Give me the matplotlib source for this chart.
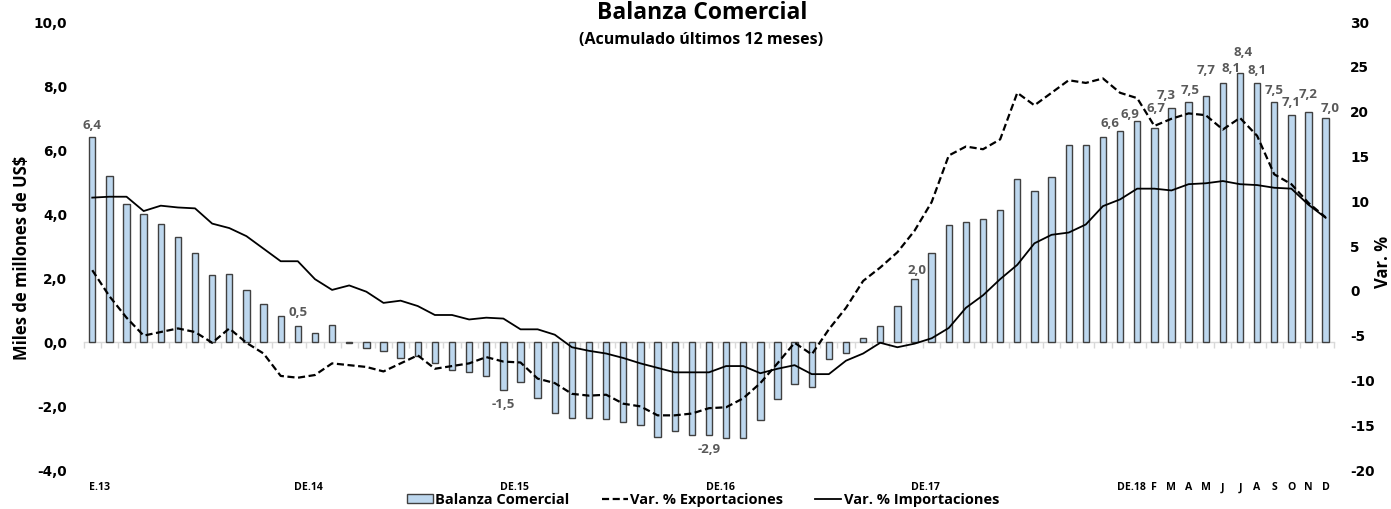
import numpy as np
import matplotlib
matplotlib.use("Agg")
import matplotlib.pyplot as plt
from matplotlib.patches import Patch
from matplotlib.lines import Line2D
import matplotlib.transforms as mtransforms

# ---------------- data ----------------
categories = ["E.13"] + [""] * 11 + ["DE.14"] + [""] * 11 + ["DE.15"] + [""] * 11 + \
             ["DE.16"] + [""] * 11 + ["DE.17"] + [""] * 11 + \
             ["DE.18", "", "F", "M", "A", "M", "J", "J", "A", "S", "O", "N", "D"]

balanza = [6.4, 5.18, 4.32, 4.0, 3.68, 3.27, 2.78, 2.08, 2.12, 1.62, 1.2, 0.8,
           0.5, 0.27, 0.54, -0.02, -0.19, -0.29, -0.5, -0.45, -0.66, -0.87, -0.95, -1.07,
           -1.5, -1.26, -1.76, -2.22, -2.38, -2.38, -2.41, -2.49, -2.58, -2.97, -2.77, -2.92,
           -2.9, -3.0, -3.0, -2.45, -1.77, -1.32, -1.42, -0.53, -0.34, 0.13, 0.49, 1.14,
           1.97, 2.78, 3.65, 3.75, 3.85, 4.11, 5.1, 4.73, 5.17, 6.16, 6.16, 6.42,
           6.6, 6.9, 6.7, 7.3, 7.5, 7.7, 8.1, 8.4, 8.1, 7.5, 7.1, 7.2, 7.0]

exportaciones = [2.3, -0.6, -3.0, -5.0, -4.6, -4.2, -4.6, -5.8, -4.2, -5.8, -7.0, -9.5,
                 -9.7, -9.4, -8.1, -8.3, -8.5, -9.0, -8.1, -7.2, -8.7, -8.4, -8.1, -7.4,
                 -7.9, -8.0, -9.8, -10.3, -11.5, -11.7, -11.6, -12.6, -12.9, -13.9, -13.9, -13.7,
                 -13.1, -13.0, -12.0, -10.3, -8.1, -5.8, -7.1, -4.3, -1.9, 1.1, 2.6, 4.3,
                 6.7, 9.9, 15.1, 16.1, 15.8, 16.9, 22.1, 20.7, 22.1, 23.5, 23.2, 23.7,
                 22.1, 21.5, 18.4, 19.2, 19.8, 19.6, 18.0, 19.3, 17.3, 13.0, 11.9, 9.8, 8.2]

importaciones = [10.4, 10.5, 10.5, 8.9, 9.5, 9.3, 9.2, 7.5, 7.0, 6.1, 4.7, 3.3,
                 3.3, 1.3, 0.1, 0.6, -0.1, -1.35, -1.1, -1.7, -2.7, -2.7, -3.2, -3.0,
                 -3.1, -4.3, -4.3, -4.9, -6.3, -6.7, -7.0, -7.5, -8.1, -8.6, -9.1, -9.1,
                 -9.1, -8.4, -8.4, -9.2, -8.7, -8.3, -9.3, -9.3, -7.8, -7.0, -5.8, -6.3,
                 -5.9, -5.3, -4.15, -1.9, -0.5, 1.3, 2.9, 5.3, 6.25, 6.5, 7.4, 9.45,
                 10.2, 11.4, 11.4, 11.2, 11.9, 12.0, 12.25, 11.9, 11.8, 11.5, 11.4, 9.6, 8.15]

# bars that carry a value label
labelled = [0, 12, 24, 36, 48, 60, 61, 62, 63, 64, 65, 66, 67, 68, 69, 70, 71, 72]

# label offsets in pixels (dx, distance of label centre beyond the bar end)
label_offsets = {0: (0, 12), 12: (0, 13), 24: (0, 15), 36: (0, 15), 48: (3, 8),
                 60: (-10, 7), 61: (-7, 7), 62: (2, 19), 63: (-5, 13), 64: (2, 11),
                 65: (0, 25), 66: (8, 14), 67: (3, 21), 68: (0, 12), 69: (0, 12),
                 70: (0, 12), 71: (0, 17), 72: (4, 9)}

# ---------------- figure ----------------
W, H = 1391, 509
fig = plt.figure(figsize=(W / 100, H / 100), dpi=100)
ax = fig.add_axes([83.7 / W, (H - 470) / H, (1334.2 - 83.7) / W, 448 / H])
ax2 = ax.twinx()

x = np.arange(len(balanza))
TXT = "Open Sans"
TICK = "DejaVu Sans"

ax.bar(x, balanza, width=0.37, color="#BDD7EE", edgecolor="#404040",
       linewidth=1.0, zorder=2)

DASH = (0, (3.2, 1.6))
ax2.plot(x, exportaciones, color="black", lw=1.6, ls=DASH, zorder=3)
ax2.plot(x, importaciones, color="black", lw=1.3, zorder=3)

ax.set_xlim(-0.5, len(balanza) - 0.5)
ax.set_ylim(-4, 10)
ax2.set_ylim(-20, 30)

# y ticks
lt = np.arange(-4, 10.1, 2)
ax.set_yticks(lt)
ax.set_yticklabels([f"{v:.1f}".replace(".", ",") for v in lt],
                   fontsize=9.8, fontweight="bold", family=TICK)
rt = np.arange(-20, 30.1, 5)
ax2.set_yticks(rt)
ax2.set_yticklabels([f"{int(v)}" for v in rt], fontsize=9.8, fontweight="bold", family=TICK)
ax.tick_params(axis="y", length=0, pad=12)
ax2.tick_params(axis="y", length=0, pad=11.5)

for a in (ax, ax2):
    for s in a.spines.values():
        s.set_visible(False)

# zero line with category ticks
ax.spines["bottom"].set_visible(True)
ax.spines["bottom"].set_position(("data", 0))
ax.spines["bottom"].set_color("#D9D9D9")
ax.spines["bottom"].set_linewidth(1.0)
ax.set_xticks(np.arange(-0.5, len(balanza), 1))
ax.tick_params(axis="x", length=4, width=1, color="#D9D9D9", labelbottom=False,
               direction="out")
ax.spines["bottom"].set_zorder(1)

# category labels
trans = mtransforms.blended_transform_factory(ax.transData, ax.transAxes)
for i, lab in enumerate(categories):
    if not lab:
        continue
    if len(lab) > 1:
        ax.text(i - 0.2, -18 / 448, lab, transform=trans, ha="left", va="center",
                fontsize=7.6, fontweight="bold", family=TXT)
    else:
        ax.text(i, -18 / 448, lab, transform=trans, ha="center", va="center",
                fontsize=7.6, fontweight="bold", family=TXT)

# value labels
for i in labelled:
    v = balanza[i]
    dx, dy = label_offsets.get(i, (0, 12))
    sgn = 1 if v >= 0 else -1
    ax.annotate(f"{v:.1f}".replace(".", ","), (i, v),
                xytext=(dx * 0.72, sgn * dy * 0.72), textcoords="offset points",
                ha="center", va="center", fontsize=9.5, fontweight="bold",
                color="#595959", family=TXT, zorder=5)

# titles
fig.text(702 / W, 1 - 13 / H, "Balanza Comercial", ha="center", va="center",
         fontsize=16.5, fontweight="bold", family=TXT)
fig.text(701 / W, 1 - 40 / H, "(Acumulado últimos 12 meses)", ha="center", va="center",
         fontsize=11.5, fontweight="bold", family=TXT)

# axis labels
fig.text(22 / W, 1 - 258 / H, "Miles de millones de US$", rotation=90, ha="center",
         va="center", fontsize=12, fontweight="bold", family=TXT)
fig.text(1383 / W, 1 - 262 / H, "Var. %", rotation=90, ha="center", va="center",
         fontsize=12, fontweight="bold", family=TXT)

# legend
handles = [Patch(facecolor="#BDD7EE", edgecolor="#404040", linewidth=1.0),
           Line2D([], [], color="black", lw=1.6, ls=DASH),
           Line2D([], [], color="black", lw=1.3)]
labels = ["Balanza Comercial", "Var. % Exportaciones", "Var. % Importaciones"]
fig.legend(handles, labels, loc="center", bbox_to_anchor=(703 / W, 1 - 500 / H),
           ncol=3, frameon=False, handlelength=1.8, handleheight=0.55,
           handletextpad=0.15, columnspacing=2.2, borderaxespad=0, borderpad=0,
           prop={"family": TXT, "weight": "bold", "size": 10.5})

fig.savefig("out.png", dpi=100)
